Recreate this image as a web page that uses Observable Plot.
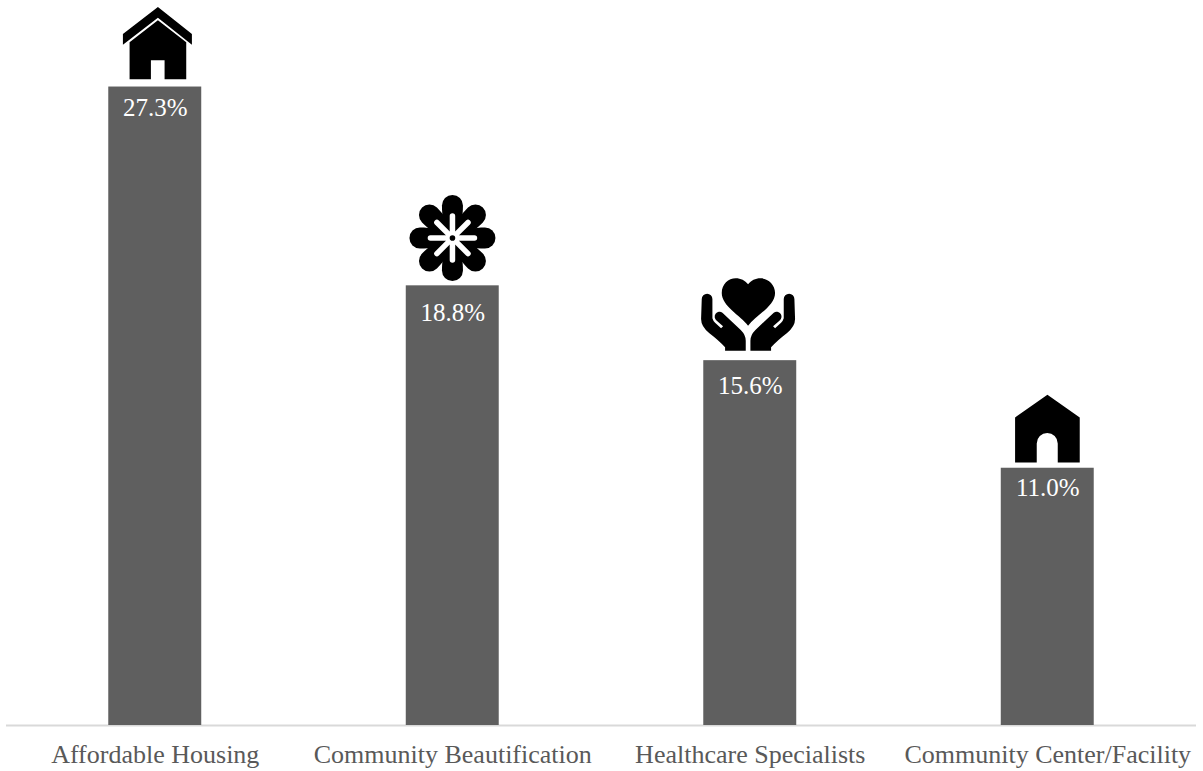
<!DOCTYPE html>
<html>
<head>
<meta charset="utf-8">
<script src="https://cdn.jsdelivr.net/npm/d3@7"></script>
<script src="https://cdn.jsdelivr.net/npm/@observablehq/plot@0.6"></script>
<style>html,body{margin:0;padding:0;background:#fff;overflow:hidden}svg{display:block}</style>
</head>
<body>
<div id="chart"></div>
<script>
const categories = ["Affordable Housing", "Community Beautification", "Healthcare Specialists", "Community Center/Facility"];
const values = [27.3, 18.8, 15.6, 11.0];
const iconNames = ["house", "flower", "hands", "center"];
const labelOffsets = [21, 27, 25, 19.5];

const angles = d3.range(0, 360, 45);
const iconBodies = {
  house: `<g transform="translate(-65,-86) scale(.3333)"><path d="M203,18L305,99V131L203,50L98,131V99Z"/><path d="M203,58L288,124V235H223V178H182V235H118V124Z"/></g>`,
  flower: `<g transform="translate(-.3,-47.8)">` +
    angles.map(a => `<path transform="rotate(${a})" d="M0,0C-9,-10-10.5,-22-10.5,-32.5A10.5,10.5 0 0 1 10.5,-32.5C10.5,-22 9,-10 0,0Z"/>`).join("") +
    `<circle r="7" fill="#fff"/>` +
    angles.map(a => `<path transform="rotate(${a})" d="M0,-3V-22" stroke="#fff" stroke-width="5.5" stroke-linecap="round" fill="none"/>`).join("") +
    `<circle r="2.8"/></g>`,
  hands: `<g transform="translate(-64.5,-95) scale(.3333)"><path d="M187,180C165,150 108,122 108,82C108,56 128,38 150,38C165,38 178,45 187,56C196,45 209,38 224,38C246,38 268,56 268,82C268,122 209,150 187,180Z"/>` +
    [`<path d="M48,100A16,16 0 0 1 80,100L80,158Q82,166 88,171L106,188L112,182L93,165A13,13 0 0 1 110,141L165,193Q180,208 180,225V255H118V245Q100,225 70,202Q46,182 46,160Z"/>`].map(p => p + `<g transform="translate(374,0) scale(-1,1)">${p}</g>`).join("") + `</g>`,
  center: `<g transform="translate(-62,-83.5) scale(.3333)"><path d="M185,30L282,98V233H216V176A31.5,31.5 0 0 0 153,176V233H88V98Z"/></g>`
};
const iconSrc = name => "data:image/svg+xml," + encodeURIComponent(
  `<svg xmlns="http://www.w3.org/2000/svg" viewBox="-50 -100 100 100" width="100" height="100">${iconBodies[name]}</svg>`);

const table = categories.map((category, i) => ({category, value: values[i], icon: iconSrc(iconNames[i])}));

const chart = Plot.plot({
  width: 1203,
  height: 771,
  marginTop: 0,
  marginBottom: 46,
  marginLeft: 6,
  marginRight: 7,
  style: {fontFamily: "'Liberation Serif', serif", background: "#fff"},
  x: {domain: categories, paddingInner: 0.6875, paddingOuter: 0.34375, round: false, label: null},
  y: {domain: [0, 31], label: null, axis: null},
  marks: [
    Plot.ruleY([0], {stroke: "#d9d9d9", strokeWidth: 2}),
    Plot.barY(table, {x: "category", y: "value", fill: "#5f5f5f"}),
    ...table.map((row, i) => Plot.text([row], {x: "category", y: "value", text: d => d3.format(".1f")(d.value) + "%", dy: labelOffsets[i], fill: "#fff", fontSize: 25})),
    Plot.image(table, {x: "category", y: "value", src: "icon", width: 100, height: 100, dy: -50}),
    Plot.axisX({tickSize: 0, tickPadding: 19, fontSize: 26, fill: "#595959", color: "#595959", label: null})
  ]
});
document.getElementById("chart").appendChild(chart);
</script>
</body>
</html>
